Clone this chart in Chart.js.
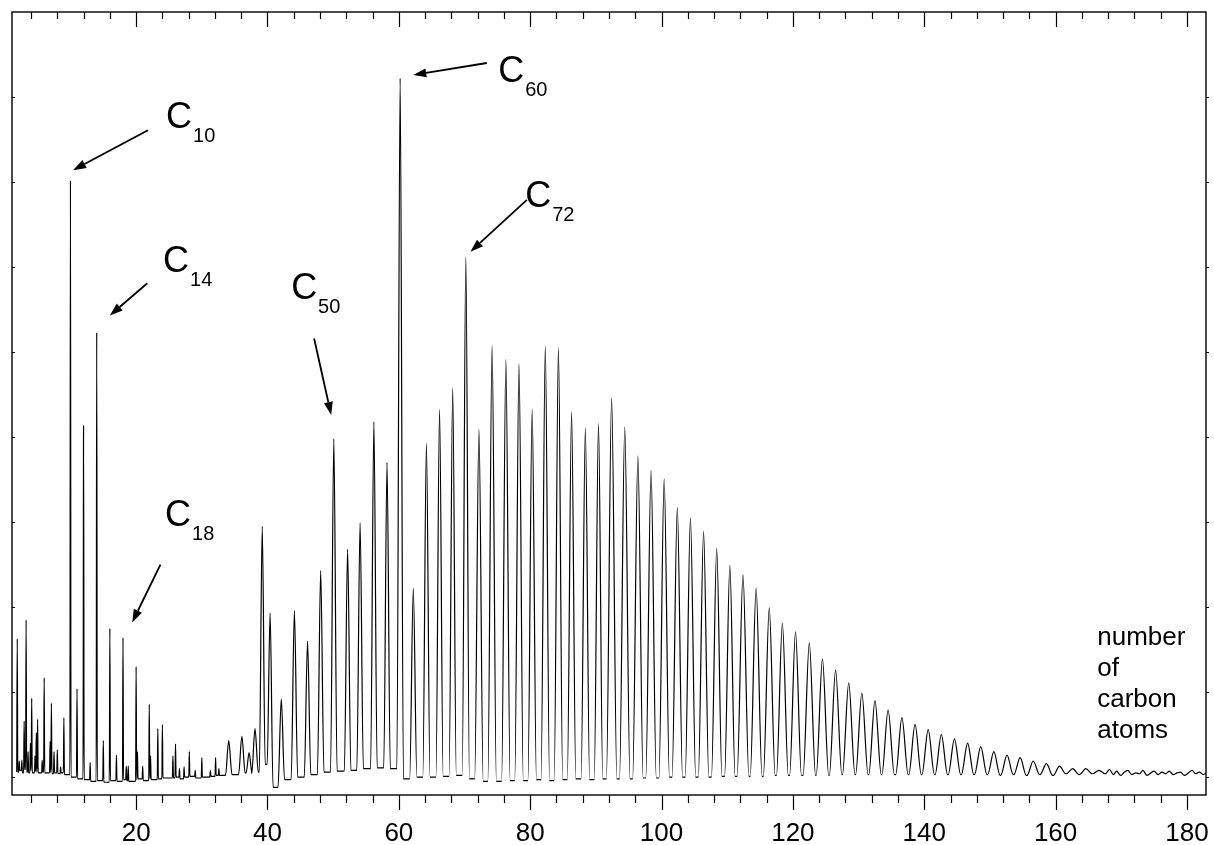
<!DOCTYPE html>
<html lang="en">
<head>
<meta charset="UTF-8">
<title>Carbon cluster mass spectrum</title>
<script src="https://cdn.jsdelivr.net/npm/chart.js"></script>
<style>
  html, body { margin: 0; padding: 0; background: #fff; }
</style>
</head>
<body>
<canvas id="spectrum" width="1214" height="845"></canvas>
<script>
// values: x = number of carbon atoms, y = intensity (arb. units)

// small clusters: sharp spikes
const lowN = [1.9, 2.2, 2.6, 2.95, 3.25, 3.55, 3.9, 4.1, 4.6, 4.8,
  5.0, 5.7, 6.0, 6.9, 7.1, 7.5, 8.0, 8.5, 9.0, 10.0,
  11.0, 12.0, 13.0, 14.0, 15.0, 16.0, 17.0, 18.0, 18.5, 18.8,
  20.0, 20.2, 21.0, 22.0, 22.2, 23.3, 24.0, 25.6, 26.0, 26.6,
  27.3, 28.1, 29.0, 30.0, 31.3, 32.1, 32.6];
const lowH = [1.63, 0.19, 0.2, 0.66, 1.85, 0.3, 0.40, 0.93, 0.25, 0.52,
  0.68, 0.2, 1.17, 0.42, 0.87, 0.3, 0.32, 0.12, 0.70, 7.02,
  1.04, 4.14, 0.17, 5.23, 0.43, 1.75, 0.26, 1.64, 0.13, 0.13,
  1.30, 0.3, 0.13, 0.86, 0.25, 0.57, 0.62, 0.25, 0.39, 0.1,
  0.12, 0.30, 0.08, 0.23, 0.08, 0.23, 0.1];
// baseline level right after each spike
const lowValley = [0.06, 0.08, 0.05, 0.09, 0.06, 0.05, 0.08, 0.05, 0.07, 0.06,
  0.05, 0.06, 0.05, 0.06, 0.04, 0.05, 0.04, 0.05, 0.03, 0.0,
  -0.02, -0.03, -0.05, -0.04, -0.06, -0.04, -0.05, -0.03, -0.04, -0.05,
  -0.03, -0.02, -0.04, -0.02, -0.03, -0.02, -0.01, -0.01, 0.0, -0.02,
  0.0, 0.01, -0.01, 0.0, 0.01, 0.02, 0.02];

// fullerene range: broader peaks
const bigN = [34.1, 36.1, 37.2, 38.1, 39.2, 40.4,
  42.1, 44.1, 46.1, 48.1, 50.1, 52.2, 54.1, 56.2, 58.2,
  60.2, 62.2, 64.2, 66.2, 68.2, 70.2, 72.2, 74.2, 76.3, 78.3,
  80.3, 82.3, 84.3, 86.3, 88.4, 90.4, 92.4, 94.4, 96.4, 98.4,
  100.4, 102.4, 104.4, 106.4, 108.4, 110.4, 112.4, 114.4, 116.4, 118.4,
  120.4, 122.5, 124.5, 126.5, 128.5, 130.5, 132.5, 134.5, 136.6,
  138.6, 140.6, 142.6, 144.6, 146.6, 148.6, 150.6, 152.6, 154.6, 156.6,
  158.6, 160.6, 162.6, 164.6, 166.6];
const bigH = [0.43, 0.48, 0.29, 0.57, 2.95, 1.93,
  0.92, 1.96, 1.60, 2.43, 3.98, 2.68, 2.99, 4.18, 3.70,
  8.22, 2.22, 3.93, 4.33, 4.58, 6.12, 4.09, 5.08, 4.91, 4.86,
  4.33, 5.07, 5.05, 4.30, 4.11, 4.16, 4.46, 4.12, 3.78, 3.61,
  3.51, 3.17, 3.05, 2.89, 2.69, 2.49, 2.38, 2.22, 1.99, 1.81,
  1.71, 1.58, 1.39, 1.26, 1.11, 0.99, 0.90, 0.79, 0.70,
  0.62, 0.56, 0.50, 0.45, 0.40, 0.36, 0.30, 0.26, 0.23, 0.19,
  0.16, 0.13, 0.10, 0.10, 0.08];
const bigValley = [0.03, 0.05, 0.04, 0.06, 0.15, -0.12,
  -0.03, 0.0, 0.03, 0.06, 0.07, 0.08, 0.10, 0.11, 0.10,
  -0.02, 0.0, 0.0, 0.01, 0.02, -0.02, -0.05, -0.05, -0.04, -0.04,
  -0.03, -0.04, -0.03, -0.02, -0.03, -0.02, -0.02, -0.02, -0.01, -0.01,
  0.0, 0.0, 0.0, 0.0, 0.01, 0.01, 0.01, 0.01, 0.02, 0.02,
  0.02, 0.02, 0.02, 0.03, 0.03, 0.03, 0.03, 0.03, 0.03,
  0.03, 0.03, 0.03, 0.03, 0.03, 0.03, 0.02, 0.03, 0.02, 0.03,
  0.02, 0.04, 0.03, 0.04, 0.04];
// half width of each peak at its base
const bigHalfWidth = [0.5, 0.5, 0.45, 0.5, 0.45, 0.45,
  0.5, 0.5, 0.5, 0.5, 0.5, 0.5, 0.5, 0.5, 0.5,
  0.5, 0.55, 0.55, 0.55, 0.55, 0.55, 0.65, 0.65, 0.65, 0.65,
  0.65, 0.65, 0.65, 0.65, 0.65, 0.65, 0.8, 0.8, 0.8, 0.8,
  0.8, 0.8, 0.8, 0.8, 0.8, 0.8, 0.9, 0.9, 0.9, 0.9,
  0.9, 0.95, 0.95, 0.95, 0.95, 0.95, 0.95, 0.95, 0.95,
  0.95, 0.95, 0.95, 0.95, 0.95, 0.95, 0.95, 0.95, 0.95, 0.95,
  0.95, 0.95, 0.95, 0.95, 0.95];

// noisy tail
const tailN = [167.6, 168.2, 168.8, 169.3, 169.9, 170.5, 171.0, 171.6, 172.2, 172.8,
  173.3, 173.9, 174.5, 175.0, 175.6, 176.2, 176.8, 177.3, 177.9, 178.5,
  179.0, 179.6, 180.2, 180.8, 181.3, 181.9, 182.5, 182.9];
const tailH = [0.04, 0.09, 0.03, 0.07, 0.02, 0.06, 0.08, 0.03, 0.05, 0.04,
  0.08, 0.02, 0.05, 0.07, 0.03, 0.06, 0.04, 0.07, 0.03, 0.05,
  0.06, 0.02, 0.05, 0.08, 0.04, 0.06, 0.03, 0.05];

const xTickValues = [20, 40, 60, 80, 100, 120, 140, 160, 180];
const yTickValues = [0, 1, 2, 3, 4, 5, 6, 7, 8];

// annotations (positions in data units)
const clusterLabels = [
  { sub: '10', at: [24.56, 7.64], from: [21.8, 7.61], to: [10.4, 7.14] },
  { sub: '14', at: [24.11, 5.94], from: [21.7, 5.81], to: [16.0, 5.43] },
  { sub: '18', at: [24.41, 2.95], from: [23.7, 2.50], to: [19.4, 1.82] },
  { sub: '50', at: [43.60, 5.63], from: [47.1, 5.16], to: [49.7, 4.26] },
  { sub: '60', at: [75.12, 8.18], from: [73.4, 8.40], to: [62.2, 8.26] },
  { sub: '72', at: [79.23, 6.71], from: [79.5, 6.79], to: [70.9, 6.18] }
];
const axisNote = { lines: ['number', 'of', 'carbon', 'atoms'], at: [166.34, 1.55] };

const FONT = '"Liberation Sans", Arial, sans-serif';
const SPIKE_HALF_WIDTH = 0.08;

// build the trace: valley -> peak -> valley for every peak
const trace = [];
function addPeaks(ns, hs, valleys, halfWidth) {
  ns.forEach((n, i) => {
    const hw = Array.isArray(halfWidth) ? halfWidth[i] : halfWidth;
    const left = trace.length ? trace[trace.length - 1].y : valleys[i];
    trace.push({ x: n - hw, y: left });
    trace.push({ x: n, y: hs[i] });
    trace.push({ x: n + hw, y: valleys[i] });
  });
}
addPeaks(lowN, lowH, lowValley, SPIKE_HALF_WIDTH);
addPeaks(bigN, bigH, bigValley, bigHalfWidth);
tailN.forEach((n, i) => trace.push({ x: n, y: tailH[i] }));

const decorations = {
  id: 'decorations',
  afterDraw(chart) {
    const { ctx, chartArea: a, scales: { x, y } } = chart;
    ctx.save();
    ctx.strokeStyle = '#000';
    ctx.fillStyle = '#000';

    // frame
    ctx.lineWidth = 1.4;
    ctx.strokeRect(a.left, a.top, a.right - a.left, a.bottom - a.top);

    // ticks
    ctx.lineWidth = 1.2;
    ctx.beginPath();
    for (let v = 4; v <= x.max; v += 4) {
      const px = Math.round(x.getPixelForValue(v)) + 0.5;
      const major = v % 20 === 0;
      ctx.moveTo(px, a.bottom); ctx.lineTo(px, a.bottom + (major ? 15 : 8));
      ctx.moveTo(px, a.top); ctx.lineTo(px, a.top + (major ? 15 : 7));
    }
    yTickValues.forEach(v => {
      const py = Math.round(y.getPixelForValue(v)) + 0.5;
      ctx.moveTo(a.left, py); ctx.lineTo(a.left + 3, py);
      ctx.moveTo(a.right, py); ctx.lineTo(a.right + 3, py);
    });
    ctx.stroke();

    // cluster labels with arrows
    clusterLabels.forEach(l => {
      const lx = x.getPixelForValue(l.at[0]);
      const ly = y.getPixelForValue(l.at[1]);
      ctx.font = '36px ' + FONT;
      ctx.textBaseline = 'alphabetic';
      ctx.textAlign = 'left';
      ctx.fillText('C', lx, ly);
      const w = ctx.measureText('C').width;
      ctx.font = '20px ' + FONT;
      ctx.fillText(l.sub, lx + w + 1, ly + 14);

      const x0 = x.getPixelForValue(l.from[0]), y0 = y.getPixelForValue(l.from[1]);
      const x1 = x.getPixelForValue(l.to[0]), y1 = y.getPixelForValue(l.to[1]);
      const ang = Math.atan2(y1 - y0, x1 - x0);
      const head = 13, half = 4.5;
      const bx = x1 - head * Math.cos(ang), by = y1 - head * Math.sin(ang);
      ctx.lineWidth = 1.8;
      ctx.beginPath();
      ctx.moveTo(x0, y0); ctx.lineTo(bx, by);
      ctx.stroke();
      ctx.beginPath();
      ctx.moveTo(x1, y1);
      ctx.lineTo(bx + half * Math.sin(ang), by - half * Math.cos(ang));
      ctx.lineTo(bx - half * Math.sin(ang), by + half * Math.cos(ang));
      ctx.closePath();
      ctx.fill();
    });

    // axis note
    ctx.font = '26px ' + FONT;
    const nx = x.getPixelForValue(axisNote.at[0]);
    const ny = y.getPixelForValue(axisNote.at[1]);
    axisNote.lines.forEach((t, i) => ctx.fillText(t, nx, ny + i * 31));
    ctx.restore();
  }
};

new Chart(document.getElementById('spectrum'), {
  type: 'line',
  data: {
    datasets: [{
      data: trace,
      borderColor: '#000',
      borderWidth: 1.2,
      pointRadius: 0,
      cubicInterpolationMode: 'monotone',
      fill: false
    }]
  },
  options: {
    responsive: false,
    animation: false,
    layout: { padding: { left: 12, right: 8, top: 12, bottom: 0 } },
    plugins: { legend: { display: false }, tooltip: { enabled: false } },
    scales: {
      x: {
        type: 'linear',
        min: 1.1,
        max: 182.9,
        grid: { display: false },
        border: { display: false },
        afterBuildTicks: scale => { scale.ticks = xTickValues.map(v => ({ value: v })); },
        afterFit: scale => {
          scale.height = 50;
          scale.paddingLeft = 0;
          scale.paddingRight = 0;
        },
        ticks: {
          autoSkip: false,
          maxRotation: 0,
          padding: 15,
          color: '#000',
          font: { family: FONT, size: 26 }
        }
      },
      y: {
        type: 'linear',
        min: -0.21,
        max: 9.0,
        display: false
      }
    }
  },
  plugins: [decorations]
});
</script>
</body>
</html>
